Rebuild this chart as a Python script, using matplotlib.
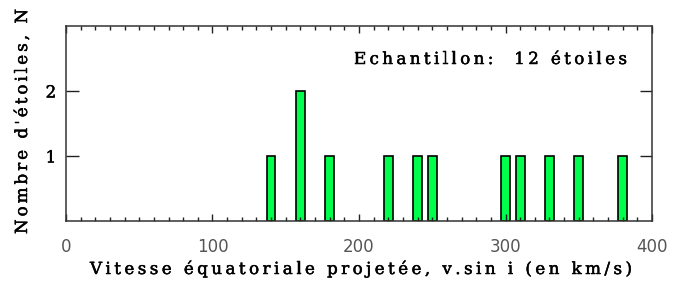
import matplotlib
matplotlib.use("Agg")
import matplotlib.pyplot as plt
import matplotlib.patheffects as pe
from matplotlib.ticker import MultipleLocator
from matplotlib.font_manager import FontProperties, findfont, get_font
from matplotlib.transforms import IdentityTransform

# vitesses (centres des classes, km/s) et nombre d'etoiles
vsini = [140, 160, 180, 220, 240, 250, 300, 310, 330, 350, 380]
counts = [1, 2, 1, 1, 1, 1, 1, 1, 1, 1, 1]
xticks = [0, 100, 200, 300, 400]
yticks = [1, 2]

XLABEL = "Vitesse équatoriale projetée, v.sin i (en km/s)"
YLABEL = "Nombre d'étoiles, N"
NOTE = "Echantillon:  12 étoiles"

DPI = 100
SERIF = FontProperties(family='DejaVu Serif', size=12)
HEAVY = [pe.withStroke(linewidth=0.35, foreground='black')]


def advances(s, prop):
    font = get_font(findfont(prop))
    font.set_size(prop.get_size_in_points(), DPI)
    return [font.load_char(ord(c)).linearHoriAdvance / 65536 for c in s]


def spaced_text(fig, x0, y0, s, width, prop, vertical=False):
    # IDL-like wide lettering: place glyphs one by one to fill `width` px
    adv = advances(s, prop)
    gap = (width - sum(adv)) / (len(s) - 1)
    pos = 0.0
    for c, a in zip(s, adv):
        if vertical:
            xy = (x0, y0 + pos)
            rot = 90
        else:
            xy = (x0 + pos, y0)
            rot = 0
        fig.text(*xy, c, fontproperties=prop, ha='left', va='baseline',
                 rotation=rot, rotation_mode='anchor', transform=IdentityTransform(),
                 path_effects=HEAVY)
        pos += a + gap


fig = plt.figure(figsize=(6.78, 2.82), dpi=DPI)
ax = fig.add_axes([0.0973, 0.2163, 0.8644, 0.6915])

ax.bar(vsini, counts, width=6, color='#00ff4c', edgecolor='black', linewidth=1.2)

ax.set_xlim(0, 400)
ax.set_ylim(0, 3)
ax.set_xticks(xticks)
ax.set_yticks(yticks)
ax.xaxis.set_minor_locator(MultipleLocator(10))
ax.tick_params(axis='both', which='major', direction='in', top=True, right=True,
               length=9, width=1, color='#222222')
ax.tick_params(axis='x', which='minor', direction='in', top=True, length=3, width=1,
               color='#222222')
ax.tick_params(axis='x', which='major', length=5, pad=12)
ax.tick_params(axis='y', which='major', pad=7)
for s in ax.spines.values():
    s.set_linewidth(1.1)
    s.set_color('#333333')

for lab in ax.get_xticklabels():
    lab.set_fontfamily('DejaVu Sans')
    lab.set_fontsize(12)
    lab.set_color('#555555')
for lab in ax.get_yticklabels():
    lab.set_fontfamily('DejaVu Serif')
    lab.set_fontsize(12)
    lab.set_path_effects(HEAVY)

H = 282
# pixel coordinates, origin bottom-left
spaced_text(fig, 90, H - 274, XLABEL, 542, SERIF)
spaced_text(fig, 27, H - 234, YLABEL, 225, SERIF, vertical=True)
spaced_text(fig, 354, H - 64, NOTE, 273, SERIF)

fig.savefig("out.png", dpi=DPI)
